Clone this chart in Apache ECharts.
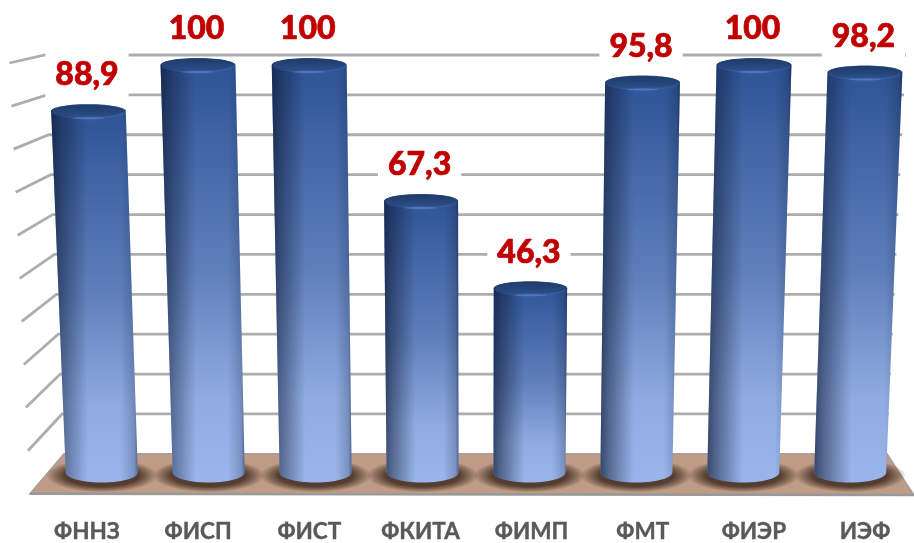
<!DOCTYPE html>
<html>
<head>
<meta charset="utf-8">
<title>Chart</title>
<style>
  html, body { margin: 0; padding: 0; background: #fff; }
  #chart { width: 914px; height: 543px; }
</style>
<script src="https://cdn.jsdelivr.net/npm/echarts@6/dist/echarts.min.js"></script>
</head>
<body>
<div id="chart"></div>
<script>
const categories = ['ФННЗ', 'ФИСП', 'ФИСТ', 'ФКИТА', 'ФИМП', 'ФМТ', 'ФИЭР', 'ИЭФ'];
const values = [88.9, 100, 100, 67.3, 46.3, 95.8, 100, 98.2];
const gridValues = [10, 20, 30, 40, 50, 60, 70, 80, 90, 100];

// perspective of the fake 3D box
const vanishX = 476;
const leanPerValue = 0.04 / 100;
const wallLeanPerValue = 0.046 / 100;
const cylinderDepthScale = 0.962;
const axisY0 = 482, axisH = 417;
const floorTopValue = 2;

function lean(x, v, depthScale) {
    return vanishX + (x - vanishX) * depthScale * (1 + leanPerValue * v);
}

function wallX(x, v) {
    return vanishX + (x - vanishX) * (1 + wallLeanPerValue * v);
}

// wall points: the axis plane is moved to the front or the back of the box
function frontPoint(api, v) {
    const p = api.coord([0, v]);
    return [wallX(30, v), 495 + (p[1] - axisY0) * 432 / axisH];
}
function backPoint(api, v, rightSide) {
    const p = api.coord([0, v]);
    return [wallX(rightSide ? 887 : 64, v), 455 + (p[1] - axisY0) * 400 / axisH];
}

function renderWalls(params, api) {
    const v = api.value(0);
    return {
        type: 'polyline',
        shape: { points: [frontPoint(api, v), backPoint(api, v, false), backPoint(api, v, true)] },
        style: { stroke: '#adadad', lineWidth: 2.8, fill: 'none' }
    };
}

function renderFloor(params, api) {
    const a = frontPoint(api, 0);
    const b = backPoint(api, 0, false);
    const c = backPoint(api, 0, true);
    return {
        type: 'group',
        children: [
            {
                type: 'polygon',
                shape: { points: [a, b, c, [914, 495]] },
                style: { fill: '#bf9c85', stroke: '#a3a09d', lineWidth: 1.5 }
            },
            {
                type: 'line',
                shape: { x1: a[0], y1: a[1], x2: 914, y2: 495 },
                style: { stroke: '#999999', lineWidth: 2.5 }
            }
        ]
    };
}

function ellipsePoints(cx, cy, rx, ry, from, to, n) {
    const pts = [];
    for (let k = 0; k <= n; k++) {
        const t = from + (to - from) * k / n;
        pts.push([cx + rx * Math.cos(t), cy + ry * Math.sin(t)]);
    }
    return pts;
}

function vGrad(stops) {
    return new echarts.graphic.LinearGradient(0, 0, 0, 1, stops);
}

function renderCylinder(params, api) {
    const i = api.value(0);
    const v = api.value(1);
    const top = api.coord([i, v]);
    const base = api.coord([i, floorTopValue]);
    const size = api.size([1, 0]);
    const rxBase = size[0] * 0.324;
    const rxTop = rxBase * (1 + leanPerValue * v);
    const xb = lean(base[0], 0, cylinderDepthScale);
    const xt = lean(top[0], v, cylinderDepthScale);
    const yb = base[1], yt = top[1];
    const ryb = 10, ryt = 7;

    const body = []
        .concat(ellipsePoints(xb, yb, rxBase, ryb, Math.PI, 0, 28))
        .concat(ellipsePoints(xt, yt, rxTop, ryt, 0, -Math.PI, 28));

    const shading = new echarts.graphic.LinearGradient(0, 0, 1, 0, [
        { offset: 0, color: 'rgba(14,26,52,0.7)' },
        { offset: 0.1, color: 'rgba(14,26,52,0.5)' },
        { offset: 0.42, color: 'rgba(14,26,52,0)' },
        { offset: 0.8, color: 'rgba(14,26,52,0)' },
        { offset: 0.96, color: 'rgba(14,26,52,0.22)' },
        { offset: 1, color: 'rgba(14,26,52,0.5)' }
    ]);

    const floorShadow = new echarts.graphic.RadialGradient(0.5, 0.5, 0.5, [
        { offset: 0, color: 'rgba(58,38,28,0.85)' },
        { offset: 0.66, color: 'rgba(58,38,28,0.8)' },
        { offset: 0.84, color: 'rgba(58,38,28,0.4)' },
        { offset: 1, color: 'rgba(58,38,28,0)' }
    ]);

    return {
        type: 'group',
        children: [
            {
                type: 'circle',
                shape: { cx: 0, cy: 0, r: rxBase + 20 },
                x: xb,
                y: yb + 3,
                scaleY: 0.3,
                style: { fill: floorShadow }
            },
            {
                type: 'polygon',
                shape: { points: body },
                style: {
                    fill: vGrad([
                        { offset: 0, color: '#2c5295' },
                        { offset: 0.5, color: '#5f7fbb' },
                        { offset: 0.8, color: '#8fabe1' },
                        { offset: 1, color: '#99b5ea' }
                    ])
                }
            },
            {
                type: 'polygon',
                shape: { points: body },
                style: { fill: shading }
            },
            {
                type: 'ellipse',
                shape: { cx: xt, cy: yt - 0.5, rx: rxTop - 1, ry: ryt - 1 },
                style: {
                    fill: vGrad([
                        { offset: 0, color: '#1f3b68' },
                        { offset: 1, color: '#2a4c87' }
                    ])
                }
            },
            {
                type: 'polyline',
                shape: { points: ellipsePoints(xt, yt, rxTop - 1, ryt, Math.PI * 0.95, Math.PI * 0.05, 20) },
                style: { stroke: 'rgba(70,110,180,0.35)', lineWidth: 1.5, fill: 'none' }
            },
            {
                type: 'ellipse',
                shape: { cx: xt, cy: yt + ryt, rx: 16, ry: 1 },
                style: { fill: 'rgba(110,150,220,0.4)', shadowBlur: 4, shadowColor: 'rgba(110,150,220,0.6)' }
            }
        ]
    };
}

function renderLabel(params, api) {
    const i = api.value(0);
    const v = api.value(1);
    const top = api.coord([i, v]);
    return {
        type: 'text',
        style: {
            x: lean(top[0], v, cylinderDepthScale) - 1.5,
            y: top[1] - 7 - 29,
            text: String(v).replace('.', ','),
            align: 'center',
            verticalAlign: 'middle',
            fill: '#c00000',
            stroke: '#c00000',
            lineWidth: 0.7,
            font: '900 32px Lato, "Open Sans", sans-serif',
            backgroundColor: '#ffffff',
            padding: [7, 10, 0, 10],
            lineHeight: 38
        }
    };
}

const chart = echarts.init(document.getElementById('chart'));

chart.setOption({
    animation: false,
    // first and last category sit on the grid edges
    grid: { left: 87, right: 49, top: axisY0 - axisH, height: axisH },
    xAxis: {
        type: 'category',
        data: categories,
        boundaryGap: false,
        axisLine: { show: false },
        axisTick: { show: false },
        splitLine: { show: false },
        axisLabel: {
            margin: 39,
            interval: 0,
            color: '#595959',
            fontSize: 22.5,
            fontWeight: 'bold',
            fontFamily: 'Lato, "Open Sans", sans-serif',
            textBorderColor: '#595959',
            textBorderWidth: 0.4
        }
    },
    yAxis: {
        type: 'value',
        min: 0,
        max: 100,
        interval: 10,
        show: false
    },
    series: [
        {
            type: 'custom',
            name: 'walls',
            renderItem: renderWalls,
            data: gridValues.map(g => [g]),
            encode: { y: 0 },
            silent: true,
            z: 1
        },
        {
            type: 'custom',
            name: 'floor',
            renderItem: renderFloor,
            data: [[0]],
            encode: { y: 0 },
            silent: true,
            z: 2
        },
        {
            type: 'custom',
            name: 'labels',
            renderItem: renderLabel,
            data: values.map((v, i) => [i, v]),
            encode: { x: 0, y: 1 },
            silent: true,
            z: 3
        },
        {
            type: 'custom',
            name: 'cylinders',
            renderItem: renderCylinder,
            data: values.map((v, i) => [i, v]),
            encode: { x: 0, y: 1 },
            silent: true,
            z: 4
        }
    ]
});
</script>
</body>
</html>
